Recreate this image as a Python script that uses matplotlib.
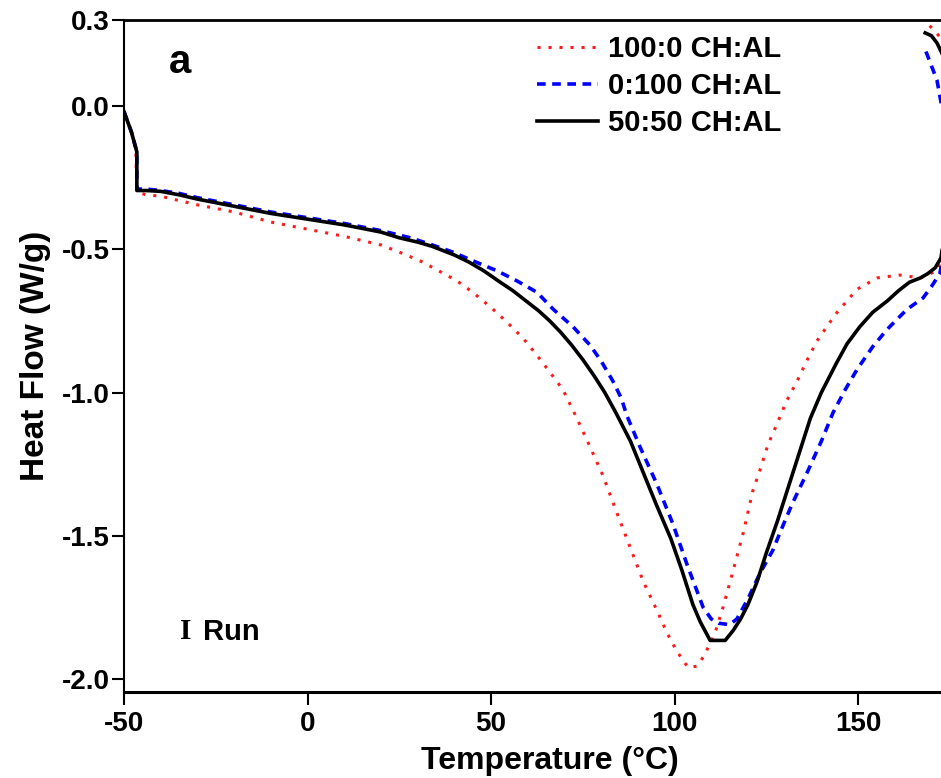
import numpy as np
import matplotlib
matplotlib.use('Agg')
import matplotlib.pyplot as plt

nan = np.nan

# 100:0 CH:AL (red, dotted)
t_red = [-50, -48, -46.8, -46.5, -44, -40, -35, -30, -20, -10, 0, 10, 20, 25, 30.6, 35,
         40.7, 45, 49.7, 54, 58.7, 62.5, 66.1, 69.6, 73.4, 77, 80.5, 84, 87.9, 91.5, 95.2,
         98, 100.5, 103.7, 106, 108, 111, 113.2, 116, 118.7, 121.4, 123.3, 125.5, 127.9,
         130.5, 133.4, 136, 138.8, 141.5, 144.3, 147, 149.7, 155.2, 161.4, 166.9, 171.5,
         173.5, nan, 169.5, 171, 173]
hf_red = [-0.02, -0.09, -0.15, -0.30, -0.31, -0.315, -0.33, -0.345, -0.37, -0.405, -0.43,
          -0.455, -0.485, -0.51, -0.54, -0.57, -0.61, -0.65, -0.70, -0.75, -0.81, -0.87,
          -0.93, -0.99, -1.09, -1.19, -1.29, -1.41, -1.54, -1.66, -1.76, -1.84, -1.90,
          -1.96, -1.955, -1.92, -1.84, -1.75, -1.62, -1.49, -1.34, -1.27, -1.18, -1.11,
          -1.03, -0.96, -0.89, -0.82, -0.77, -0.72, -0.68, -0.64, -0.60, -0.59, -0.60,
          -0.575, -0.50, nan, 0.28, 0.26, 0.23]

# 0:100 CH:AL (blue, dashed)
t_blue = [-50, -48, -46.5, -46.5, -44, -40, -35, -30, -20, -10, 0, 10, 20, 28, 34, 39.6,
          45, 51.6, 57, 62.5, 67, 72.3, 77, 80, 83.2, 85.5, 87, 90.6, 95.2, 99.6, 103.4,
          107.8, 110, 112, 115, 117, 120, 123.3, 126.8, 128.7, 132, 136.1, 140, 143.2,
          146.5, 149.7, 154, 157.9, 163.3, 167.7, 170, 172.3, 174, nan,
          168.5, 170, 171.5, 172.5, 173.5]
hf_blue = [-0.02, -0.09, -0.16, -0.29, -0.29, -0.295, -0.305, -0.32, -0.345, -0.37, -0.39,
           -0.41, -0.435, -0.46, -0.485, -0.51, -0.54, -0.575, -0.61, -0.65, -0.71, -0.77,
           -0.835, -0.89, -0.96, -1.02, -1.08, -1.19, -1.32, -1.46, -1.60, -1.75, -1.79,
           -1.805, -1.81, -1.79, -1.72, -1.63, -1.55, -1.49, -1.39, -1.28, -1.17, -1.07,
           -0.99, -0.92, -0.84, -0.78, -0.71, -0.67, -0.63, -0.585, -0.45, nan,
           0.19, 0.14, 0.09, 0.02, -0.05]

# 50:50 CH:AL (black, solid)
t_black = [-50, -48, -46.5, -46.5, -44, -40, -35, -30, -20, -10, 0, 10, 20, 25, 30, 34, 40,
           44, 48, 52.5, 56, 60, 63, 66, 69, 72, 75, 78, 81, 84, 88, 91.5, 95, 99, 102, 105,
           107, 109.7, 113.8, 116, 118, 120, 122.5, 125, 128, 131, 134, 137, 140, 144, 147,
           150.5, 154, 158, 161, 164, 167, 169, 171, 172.6, 174, nan,
           168.3, 170, 171.5, 173]
hf_black = [-0.02, -0.09, -0.16, -0.295, -0.295, -0.298, -0.31, -0.325, -0.35, -0.375,
            -0.395, -0.415, -0.44, -0.46, -0.475, -0.49, -0.52, -0.545, -0.575, -0.615,
            -0.645, -0.685, -0.715, -0.75, -0.79, -0.835, -0.885, -0.94, -1.0, -1.07,
            -1.17, -1.28, -1.39, -1.51, -1.62, -1.74, -1.80, -1.865, -1.865, -1.83, -1.79,
            -1.74, -1.66, -1.56, -1.45, -1.33, -1.21, -1.09, -1.00, -0.90, -0.83, -0.77,
            -0.72, -0.68, -0.645, -0.615, -0.60, -0.585, -0.565, -0.53, -0.40, nan,
            0.255, 0.245, 0.22, 0.18]

labels = ['100:0 CH:AL', '0:100 CH:AL', '50:50 CH:AL']
yticks = [-2.0, -1.5, -1.0, -0.5, 0.0, 0.3]
xticks = [-50, 0, 50, 100, 150]

plt.rcParams['font.family'] = ['Liberation Sans', 'DejaVu Sans']
plt.rcParams['font.weight'] = 'bold'

fig = plt.figure(figsize=(9.41, 7.78), dpi=100)
ax = fig.add_axes([124/941, 86/778, 1 - 124/941, 672/778])

ax.plot(t_red, hf_red, color='#ff1a1a', lw=2.2, linestyle=(0, (1, 2.6)), label=labels[0])
ax.plot(t_blue, hf_blue, color='#0000ff', lw=2.6, linestyle=(0, (2.4, 1.8)), label=labels[1])
ax.plot(t_black, hf_black, color='black', lw=2.6, label=labels[2])

ax.set_xlim(-50, 172.6)
ax.set_ylim(-2.045, 0.3)
ax.set_xticks(xticks)
ax.set_xticklabels([str(v) for v in xticks])
ax.set_yticks(yticks)
ax.set_yticklabels(['%.1f' % v for v in yticks])
ax.tick_params(axis='both', direction='out', labelsize=20, width=1.5, color='black')
ax.tick_params(axis='y', length=9, pad=1)
ax.tick_params(axis='x', length=9.5, pad=4)

ax.spines['right'].set_visible(False)
ax.spines['left'].set_linewidth(1.5)
ax.spines['top'].set_linewidth(2)
ax.spines['bottom'].set_linewidth(2.2)

ax.set_xlabel('Temperature (\u00b0C)', fontsize=23, fontweight='bold')
ax.xaxis.set_label_coords(0.521, -0.08)
ax.set_ylabel('Heat Flow (W/g)', fontsize=24, fontweight='bold', labelpad=8)

ax.text(0.069, 0.937, 'a', transform=ax.transAxes, fontsize=29, fontweight='bold',
        ha='center', va='center')
ax.text(0.075, 0.09, 'I', transform=ax.transAxes, fontsize=21, fontweight='bold',
        family='Liberation Serif', ha='center', va='center')
ax.text(0.097, 0.09, 'Run', transform=ax.transAxes, fontsize=21, fontweight='bold',
        ha='left', va='center')

leg = ax.legend(loc='upper left', bbox_to_anchor=(0.505, 0.977), frameon=False,
                fontsize=21, handlelength=2.1, handletextpad=0.35, labelspacing=0.3,
                borderpad=0, borderaxespad=0)

fig.savefig('out.png', dpi=100)
